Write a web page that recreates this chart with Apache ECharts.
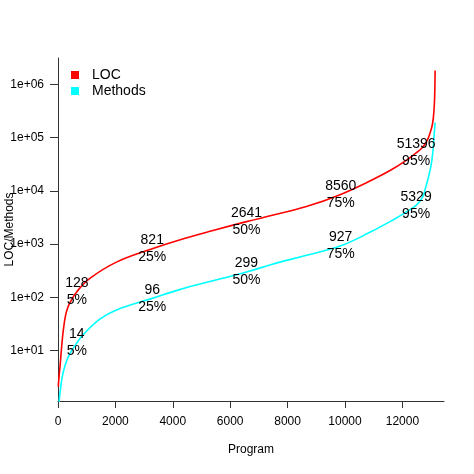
<!DOCTYPE html>
<html>
<head>
<meta charset="utf-8">
<script src="https://cdn.jsdelivr.net/npm/echarts@6/dist/echarts.min.js"></script>
<style>
html,body{margin:0;padding:0;background:#fff;}
#chart{width:474px;height:474px;}
</style>
</head>
<body>
<div id="chart"></div>
<script>
// ---- data ----
const nPrograms = 13135;

const locRanks = [10, 35, 80, 128, 184, 267, 357, 416, 657, 1110, 2036, 3284, 4232, 5400, 6568, 7468, 8626, 9851, 10937, 11600, 12095, 12478, 12671, 12844, 12962, 13052, 13101, 13125, 13140];
const locValues = [2.1, 3.2, 5.8, 12, 24, 47, 68, 80, 128, 227, 459, 821, 1200, 1800, 2641, 3470, 5000, 8560, 15900, 24500, 36000, 51396, 63000, 84000, 120000, 183000, 324000, 600000, 1800000];

const methodRanks = [30, 69, 128, 184, 302, 475, 657, 878, 1457, 2036, 3284, 4232, 5400, 6568, 7468, 8626, 9851, 10900, 11700, 12095, 12478, 12700, 12800, 12930, 13020, 13070, 13100, 13140];
const methodValues = [1, 1.6, 2.8, 4, 6.5, 10, 14, 20, 39, 58, 96, 140, 205, 299, 420, 610, 927, 1700, 2900, 3900, 5329, 7500, 11000, 20000, 35000, 60000, 100000, 190000];

const quantilePercents = [5, 25, 50, 75, 95];
const locQuantiles = [128, 821, 2641, 8560, 51396];
const methodQuantiles = [14, 96, 299, 927, 5329];

const xTicks = [0, 2000, 4000, 6000, 8000, 10000, 12000];
const yTicks = [10, 100, 1000, 10000, 100000, 1000000];

// ---- build ----
const FONT = '"Liberation Sans", Arial, Helvetica, sans-serif';
const locData = locRanks.map((r, i) => [r, locValues[i]]);
const methodData = methodRanks.map((r, i) => [r, methodValues[i]]);
const locLabels = quantilePercents.map((p, i) => [nPrograms * p / 100, locQuantiles[i], locQuantiles[i] + '\n' + p + '%']);
const methodLabels = quantilePercents.map((p, i) => [nPrograms * p / 100, methodQuantiles[i], methodQuantiles[i] + '\n' + p + '%']);

function labelSeries(data) {
  return {
    type: 'scatter',
    data: data,
    symbolSize: 1,
    itemStyle: { color: 'rgba(0,0,0,0)' },
    silent: true,
    z: 5,
    label: {
      show: true,
      position: 'inside',
      formatter: p => p.data[2],
      color: '#000',
      opacity: 1,
      textBorderWidth: 0,
      fontFamily: FONT,
      fontSize: 14,
      lineHeight: 17,
      align: 'center',
      verticalAlign: 'middle'
    }
  };
}

const chart = echarts.init(document.getElementById('chart'), null, { renderer: 'canvas' });
chart.setOption({
  animation: false,
  backgroundColor: '#fff',
  grid: { left: 58, right: 30, top: 58, bottom: 73, containLabel: false, outerBoundsMode: 'none' },
  legend: {
    orient: 'vertical',
    left: 71,
    top: 67,
    padding: 0,
    itemGap: 0,
    itemWidth: 8,
    itemHeight: 8,
    icon: 'rect',
    data: [
      { name: 'LOC', itemStyle: { color: '#FF0000' } },
      { name: 'Methods', itemStyle: { color: '#00FFFF' } }
    ],
    textStyle: { fontFamily: FONT, fontSize: 14, color: '#000', lineHeight: 16, padding: [0, 0, 0, 8] }
  },
  xAxis: {
    type: 'value',
    min: 0,
    max: 13450,
    name: 'Program',
    nameLocation: 'middle',
    nameGap: 43,
    nameMoveOverlap: false,
    nameTextStyle: { fontFamily: FONT, fontSize: 12, color: '#000' },
    axisLine: { show: true, lineStyle: { color: '#333', width: 1 } },
    axisTick: { show: true, length: 7, customValues: xTicks, lineStyle: { color: '#333' } },
    axisLabel: { customValues: xTicks, margin: 15, fontFamily: FONT, fontSize: 12, color: '#000', formatter: v => String(v) },
    splitLine: { show: false }
  },
  yAxis: {
    type: 'log',
    logBase: 10,
    min: 1.14,
    max: 3.1e6,
    name: 'LOC/Methods',
    nameLocation: 'middle',
    nameGap: 42,
    nameMoveOverlap: false,
    nameTextStyle: { fontFamily: FONT, fontSize: 12, color: '#000' },
    axisLine: { show: true, lineStyle: { color: '#333', width: 1 } },
    axisTick: { show: true, length: 8, customValues: yTicks, lineStyle: { color: '#333' } },
    axisLabel: {
      customValues: yTicks,
      margin: 14,
      fontFamily: FONT,
      fontSize: 12,
      color: '#000',
      formatter: v => '1e+' + String(Math.round(Math.log10(v))).padStart(2, '0')
    },
    splitLine: { show: false }
  },
  series: [
    {
      name: 'LOC',
      type: 'line',
      data: locData,
      showSymbol: false,
      smooth: 0.4,
      color: '#FF0000',
      lineStyle: { color: '#FF0000', width: 1.6 },
      z: 3
    },
    {
      name: 'Methods',
      type: 'line',
      data: methodData,
      showSymbol: false,
      smooth: 0.4,
      color: '#00FFFF',
      lineStyle: { color: '#00FFFF', width: 1.6 },
      z: 3
    },
    labelSeries(locLabels),
    labelSeries(methodLabels)
  ]
});
</script>
</body>
</html>
